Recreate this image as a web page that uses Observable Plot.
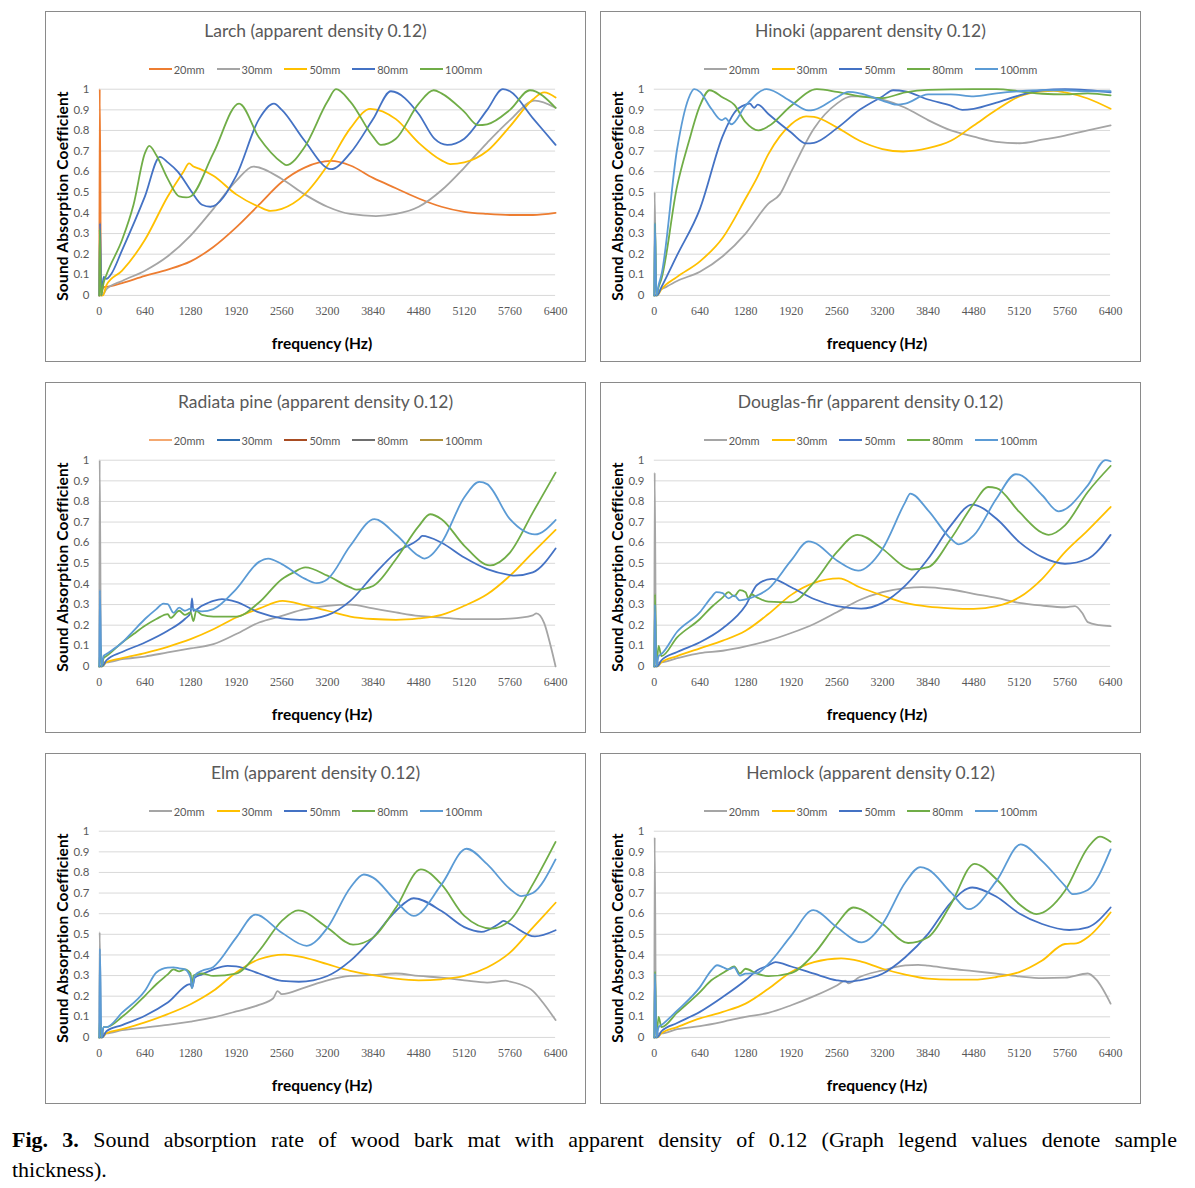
<!DOCTYPE html>
<html><head><meta charset="utf-8">
<script src="https://cdn.jsdelivr.net/npm/d3@7"></script>
<script src="https://cdn.jsdelivr.net/npm/@observablehq/plot@0.6"></script>
<style>
html,body{margin:0;padding:0;background:#fff;}
body{width:1195px;height:1188px;position:relative;overflow:hidden;font-family:Lato,"Open Sans",sans-serif;}
.panel{position:absolute;width:541px;height:351px;box-sizing:border-box;border:1px solid #8a8a8a;background:#fff;}
.panel svg{position:absolute;left:-1px;top:-1px;}
.ov{position:absolute;white-space:nowrap;pointer-events:none;}
.title{left:-1px;width:541px;top:-1px;height:40px;line-height:40px;text-align:center;font-size:17.5px;color:#595959;}
.legend{left:-1px;width:541px;top:49px;height:16px;display:flex;justify-content:center;align-items:center;gap:12px;font-size:11px;color:#595959;}
.legend .it{display:flex;align-items:center;}
.legend .sw{display:inline-block;width:23px;height:2px;margin-right:2px;}
.xlab{left:176px;width:200px;top:320px;height:22px;line-height:22px;text-align:center;font-weight:700;font-size:15.5px;color:#000;}
.ylab{left:-134px;width:300px;top:173px;height:22px;line-height:22px;text-align:center;font-weight:700;font-size:15.5px;color:#000;transform:rotate(-90deg);letter-spacing:0.2px;}
.caption{position:absolute;left:12px;width:1165px;top:1125px;font-family:"Liberation Serif","Times New Roman",serif;font-size:22px;line-height:30px;color:#000;}
.caption .l1{text-align:justify;text-align-last:justify;white-space:nowrap;}
</style>
</head><body>
<script>
// ---- shared axis values ----
const xTicks = [0,640,1280,1920,2560,3200,3840,4480,5120,5760,6400];
const yTicks = [0,0.1,0.2,0.3,0.4,0.5,0.6,0.7,0.8,0.9,1];
const thickness = ["20mm","30mm","50mm","80mm","100mm"];
const titles = ["Larch (apparent density 0.12)","Hinoki (apparent density 0.12)","Radiata pine (apparent density 0.12)","Douglas-fir (apparent density 0.12)","Elm (apparent density 0.12)","Hemlock (apparent density 0.12)"];
const xLabel = "frequency (Hz)";
const yLabel = "Sound Absorption Coefficient";

// ---- Larch: [frequency Hz, coefficient] ----
const larch20 = [[0,0],[6,1.0],[25,0.02],[60,0.04],[160,0.045],[320,0.06],[640,0.095],[960,0.125],[1280,0.165],[1600,0.235],[1920,0.33],[2240,0.44],[2560,0.55],[2880,0.62],[3250,0.652],[3520,0.63],[3840,0.57],[4160,0.52],[4480,0.47],[4800,0.43],[5120,0.405],[5440,0.395],[5760,0.39],[6080,0.39],[6400,0.40]];
const larch30 = [[0,0],[40,0.0],[100,0.03],[320,0.07],[640,0.12],[960,0.19],[1280,0.29],[1600,0.42],[1920,0.555],[2160,0.625],[2560,0.565],[2880,0.49],[3200,0.43],[3520,0.395],[3880,0.385],[4160,0.395],[4480,0.43],[4800,0.51],[5120,0.62],[5440,0.74],[5760,0.85],[6110,0.945],[6400,0.91]];
const larch50 = [[0,0],[50,0.0],[100,0.05],[320,0.12],[640,0.27],[960,0.48],[1180,0.6],[1260,0.64],[1320,0.625],[1400,0.615],[1600,0.58],[1920,0.49],[2240,0.43],[2400,0.41],[2560,0.42],[2880,0.49],[3200,0.63],[3520,0.81],[3800,0.905],[4160,0.855],[4480,0.74],[4800,0.655],[4920,0.637],[5120,0.645],[5440,0.70],[5760,0.82],[6080,0.95],[6240,0.985],[6400,0.96]];
const larch80 = [[0,0],[10,0.35],[30,0.0],[60,0.09],[100,0.08],[160,0.1],[320,0.22],[640,0.48],[850,0.672],[960,0.645],[1100,0.6],[1280,0.51],[1300,0.5],[1440,0.44],[1560,0.43],[1920,0.58],[2240,0.855],[2450,0.93],[2560,0.9],[2880,0.75],[3250,0.612],[3520,0.69],[3840,0.855],[4090,0.99],[4480,0.88],[4700,0.76],[4880,0.73],[5120,0.76],[5440,0.9],[5660,1.0],[5760,0.99],[6080,0.86],[6400,0.73]];
const larch100 = [[0,0],[5,0.32],[25,0.0],[60,0.06],[100,0.1],[320,0.27],[480,0.44],[640,0.69],[700,0.725],[800,0.68],[960,0.565],[1120,0.48],[1220,0.475],[1280,0.48],[1600,0.69],[1960,0.93],[2240,0.766],[2560,0.645],[2620,0.632],[2880,0.72],[3200,0.94],[3320,1.0],[3520,0.94],[3840,0.77],[3950,0.73],[4160,0.76],[4480,0.93],[4690,0.995],[4800,0.98],[5120,0.89],[5310,0.826],[5440,0.83],[5760,0.9],[6040,0.995],[6400,0.91]];

// ---- Hinoki ----
const hinoki20 = [[0,0],[5,0.5],[25,0.0],[60,0.02],[160,0.04],[320,0.07],[640,0.115],[960,0.19],[1280,0.30],[1600,0.445],[1760,0.49],[1920,0.6],[2240,0.81],[2560,0.93],[2760,0.965],[2880,0.965],[3200,0.95],[3520,0.91],[3840,0.85],[4160,0.8],[4480,0.77],[4800,0.745],[5120,0.738],[5440,0.755],[5760,0.775],[6080,0.8],[6400,0.825]];
const hinoki30 = [[0,0],[40,0.0],[100,0.03],[320,0.09],[640,0.165],[960,0.28],[1280,0.47],[1440,0.57],[1600,0.685],[1920,0.83],[2130,0.868],[2240,0.866],[2560,0.815],[2880,0.75],[3200,0.71],[3490,0.698],[3840,0.714],[4160,0.75],[4480,0.824],[4800,0.9],[5120,0.965],[5440,0.99],[5600,0.992],[5760,0.985],[6080,0.955],[6400,0.905]];
const hinoki50 = [[0,0],[40,0.0],[100,0.04],[320,0.195],[640,0.42],[960,0.774],[1120,0.885],[1280,0.925],[1340,0.93],[1400,0.91],[1450,0.925],[1600,0.88],[1920,0.79],[2130,0.737],[2240,0.74],[2560,0.81],[2880,0.9],[3200,0.965],[3350,0.995],[3520,0.99],[3840,0.95],[4160,0.92],[4320,0.9],[4480,0.905],[4800,0.935],[5120,0.97],[5440,0.995],[5760,1.0],[6080,0.995],[6400,0.985]];
const hinoki80 = [[0,0],[10,0.35],[30,0.0],[60,0.04],[100,0.08],[320,0.53],[480,0.74],[640,0.92],[775,0.995],[960,0.96],[1120,0.925],[1280,0.84],[1460,0.8],[1600,0.82],[1920,0.92],[2280,1.0],[2560,0.987],[2880,0.965],[3200,0.957],[3520,0.985],[3840,0.997],[4480,1.0],[4800,1.0],[5120,0.99],[5440,0.978],[5760,0.975],[6080,0.98],[6400,0.97]];
const hinoki100 = [[0,0],[8,0.35],[30,0.0],[60,0.05],[100,0.1],[320,0.71],[480,0.955],[560,1.0],[640,0.987],[800,0.905],[945,0.85],[1000,0.86],[1080,0.83],[1280,0.92],[1575,1.0],[1920,0.94],[2160,0.897],[2240,0.9],[2560,0.96],[2720,0.987],[2880,0.98],[3200,0.945],[3400,0.925],[3520,0.93],[3840,0.975],[4160,0.975],[4480,0.965],[4800,0.98],[5120,0.99],[5440,0.995],[5760,0.995],[6080,0.99],[6400,0.99]];

// ---- Radiata pine ----
const radiata20 = [[0,0],[5,1.0],[25,0.0],[60,0.02],[100,0.02],[320,0.035],[640,0.048],[960,0.068],[1280,0.087],[1600,0.108],[1920,0.157],[2240,0.213],[2560,0.245],[2880,0.278],[3200,0.294],[3520,0.30],[3840,0.281],[4160,0.262],[4480,0.245],[4800,0.237],[5120,0.229],[5440,0.229],[5760,0.232],[6080,0.248],[6130,0.257],[6240,0.21],[6330,0.1],[6400,0.0]];
const radiata30 = [[0,0],[40,0.0],[100,0.02],[320,0.04],[640,0.065],[960,0.095],[1280,0.132],[1600,0.18],[1920,0.237],[2240,0.28],[2570,0.318],[2880,0.297],[3200,0.27],[3520,0.242],[3840,0.23],[4160,0.226],[4480,0.233],[4800,0.25],[5120,0.294],[5440,0.35],[5760,0.44],[6080,0.552],[6400,0.662]];
const radiata50 = [[0,0],[40,0.0],[100,0.03],[320,0.07],[640,0.116],[960,0.173],[1200,0.23],[1280,0.26],[1300,0.33],[1320,0.27],[1440,0.294],[1600,0.318],[1720,0.326],[1920,0.313],[2240,0.262],[2560,0.233],[2810,0.226],[3200,0.249],[3520,0.318],[3840,0.44],[4160,0.552],[4480,0.617],[4530,0.633],[4800,0.6],[5120,0.528],[5440,0.472],[5760,0.443],[5820,0.44],[6080,0.456],[6400,0.572]];
const radiata80 = [[0,0],[20,0.1],[35,0.0],[60,0.04],[100,0.05],[320,0.116],[480,0.157],[640,0.197],[800,0.23],[960,0.254],[1000,0.235],[1120,0.27],[1200,0.25],[1280,0.262],[1320,0.22],[1360,0.27],[1440,0.25],[1600,0.242],[1920,0.242],[2240,0.31],[2560,0.423],[2720,0.455],[2890,0.48],[3200,0.44],[3520,0.383],[3610,0.372],[3840,0.39],[4160,0.52],[4480,0.68],[4640,0.738],[4800,0.714],[5120,0.585],[5480,0.49],[5760,0.552],[6080,0.746],[6400,0.94]];
const radiata100 = [[0,0],[8,0.37],[30,0.0],[60,0.05],[100,0.06],[320,0.116],[480,0.173],[640,0.23],[800,0.278],[900,0.305],[960,0.302],[1040,0.26],[1120,0.285],[1200,0.27],[1280,0.28],[1440,0.267],[1600,0.278],[1920,0.375],[2240,0.507],[2370,0.523],[2560,0.496],[2880,0.426],[3050,0.404],[3200,0.423],[3520,0.585],[3860,0.714],[4160,0.64],[4480,0.536],[4560,0.523],[4800,0.6],[5120,0.82],[5330,0.895],[5440,0.884],[5760,0.714],[6110,0.64],[6400,0.71]];

// ---- Douglas-fir ----
const douglas20 = [[0,0],[5,0.94],[25,0.0],[60,0.02],[100,0.02],[320,0.04],[640,0.065],[960,0.076],[1280,0.097],[1600,0.125],[1920,0.162],[2240,0.206],[2560,0.263],[2880,0.322],[3200,0.36],[3520,0.38],[3760,0.385],[4160,0.373],[4480,0.352],[4800,0.332],[5120,0.308],[5440,0.295],[5760,0.287],[5900,0.292],[6000,0.26],[6080,0.215],[6240,0.2],[6400,0.195]];
const douglas30 = [[0,0],[40,0.0],[100,0.02],[320,0.05],[640,0.088],[960,0.125],[1280,0.173],[1600,0.254],[1920,0.347],[2240,0.405],[2590,0.427],[2880,0.384],[3200,0.344],[3520,0.308],[3840,0.29],[4160,0.282],[4480,0.279],[4800,0.292],[5120,0.335],[5440,0.425],[5760,0.554],[6080,0.66],[6400,0.773]];
const douglas50 = [[0,0],[40,0.0],[100,0.03],[320,0.07],[640,0.117],[960,0.185],[1280,0.295],[1440,0.395],[1650,0.425],[1920,0.384],[2240,0.327],[2560,0.292],[2900,0.28],[3200,0.308],[3520,0.392],[3840,0.522],[4160,0.684],[4460,0.785],[4800,0.716],[5120,0.603],[5440,0.53],[5760,0.498],[6080,0.522],[6400,0.638]];
const douglas80 = [[0,0],[10,0.35],[30,0.0],[60,0.1],[100,0.05],[320,0.141],[640,0.23],[800,0.287],[960,0.335],[1040,0.36],[1120,0.34],[1200,0.37],[1280,0.36],[1320,0.33],[1360,0.35],[1440,0.335],[1600,0.314],[1920,0.311],[2240,0.408],[2560,0.554],[2850,0.638],[3200,0.57],[3520,0.481],[3610,0.47],[3840,0.481],[4160,0.619],[4480,0.789],[4680,0.87],[4800,0.865],[5120,0.749],[5440,0.648],[5530,0.638],[5760,0.684],[6080,0.846],[6400,0.972]];
const douglas100 = [[0,0],[8,0.3],[30,0.0],[60,0.05],[100,0.06],[320,0.168],[640,0.263],[800,0.335],[870,0.36],[960,0.355],[1040,0.33],[1120,0.345],[1200,0.32],[1280,0.325],[1440,0.344],[1600,0.376],[1920,0.514],[2160,0.606],[2240,0.6],[2560,0.514],[2860,0.465],[3200,0.57],[3520,0.797],[3590,0.838],[3840,0.757],[4160,0.619],[4270,0.592],[4480,0.635],[4800,0.814],[5070,0.932],[5120,0.93],[5440,0.83],[5670,0.752],[6080,0.878],[6330,1.0],[6400,0.995]];

// ---- Elm ----
const elm20 = [[0,0],[5,0.51],[25,0.0],[60,0.02],[100,0.02],[320,0.035],[640,0.048],[960,0.061],[1280,0.077],[1600,0.097],[1920,0.126],[2240,0.158],[2440,0.19],[2500,0.225],[2560,0.21],[2880,0.242],[3200,0.277],[3520,0.298],[3840,0.303],[4160,0.31],[4480,0.298],[4800,0.29],[5120,0.277],[5440,0.266],[5700,0.275],[5760,0.271],[5900,0.258],[6080,0.226],[6240,0.161],[6400,0.084]];
const elm30 = [[0,0],[40,0.0],[100,0.02],[320,0.04],[640,0.073],[960,0.113],[1280,0.161],[1600,0.226],[1920,0.315],[2240,0.379],[2600,0.402],[2880,0.387],[3200,0.355],[3520,0.323],[3840,0.302],[4160,0.285],[4480,0.277],[4800,0.282],[5120,0.298],[5440,0.339],[5760,0.411],[6080,0.532],[6400,0.653]];
const elm50 = [[0,0],[40,0.0],[100,0.03],[320,0.06],[640,0.105],[960,0.169],[1280,0.258],[1300,0.24],[1340,0.29],[1440,0.306],[1600,0.33],[1800,0.347],[1920,0.345],[2240,0.31],[2560,0.274],[2800,0.27],[3200,0.298],[3520,0.371],[3840,0.484],[4160,0.613],[4410,0.675],[4800,0.613],[5120,0.535],[5360,0.512],[5600,0.55],[5670,0.565],[5760,0.55],[6110,0.49],[6400,0.52]];
const elm80 = [[0,0],[10,0.1],[30,0.0],[60,0.05],[100,0.05],[320,0.1],[640,0.202],[800,0.258],[960,0.306],[1040,0.33],[1120,0.32],[1200,0.33],[1280,0.31],[1300,0.24],[1320,0.3],[1440,0.31],[1600,0.298],[1920,0.31],[2240,0.419],[2560,0.565],[2790,0.616],[3200,0.532],[3560,0.45],[3840,0.484],[4160,0.629],[4510,0.815],[4800,0.742],[5120,0.589],[5500,0.528],[5760,0.568],[6080,0.742],[6400,0.948]];
const elm100 = [[0,0],[8,0.43],[30,0.0],[60,0.05],[100,0.05],[320,0.12],[640,0.226],[800,0.315],[960,0.339],[1040,0.34],[1120,0.335],[1200,0.33],[1280,0.29],[1300,0.24],[1340,0.3],[1440,0.323],[1600,0.342],[1920,0.484],[2190,0.595],[2560,0.508],[2910,0.444],[3200,0.532],[3520,0.726],[3710,0.79],[3840,0.775],[4160,0.661],[4410,0.589],[4800,0.742],[5150,0.915],[5440,0.84],[5760,0.72],[5920,0.685],[6080,0.70],[6400,0.863]];

// ---- Hemlock ----
const hemlock20 = [[0,0],[5,0.97],[25,0.0],[60,0.02],[100,0.02],[320,0.04],[640,0.055],[960,0.076],[1280,0.1],[1600,0.119],[1920,0.156],[2240,0.2],[2560,0.252],[2680,0.275],[2720,0.262],[2880,0.293],[3200,0.325],[3520,0.349],[3700,0.352],[3840,0.348],[4160,0.333],[4480,0.322],[4800,0.309],[5120,0.296],[5440,0.288],[5760,0.29],[6080,0.31],[6200,0.28],[6400,0.164]];
const hemlock30 = [[0,0],[40,0.0],[100,0.02],[320,0.05],[640,0.092],[960,0.124],[1280,0.164],[1600,0.236],[1920,0.317],[2240,0.365],[2620,0.383],[2880,0.37],[3200,0.333],[3520,0.305],[3840,0.285],[4160,0.28],[4480,0.28],[4800,0.293],[5120,0.317],[5440,0.373],[5760,0.453],[5920,0.456],[6080,0.486],[6400,0.606]];
const hemlock50 = [[0,0],[40,0.0],[100,0.03],[320,0.07],[640,0.124],[960,0.196],[1280,0.277],[1440,0.325],[1600,0.349],[1700,0.365],[1920,0.344],[2240,0.309],[2560,0.277],[2720,0.27],[2880,0.277],[3200,0.309],[3520,0.389],[3840,0.502],[4160,0.654],[4460,0.727],[4800,0.682],[5120,0.601],[5440,0.55],[5820,0.521],[6080,0.534],[6400,0.63]];
const hemlock80 = [[0,0],[10,0.32],[30,0.0],[60,0.1],[100,0.05],[320,0.12],[640,0.22],[800,0.277],[960,0.312],[1040,0.33],[1120,0.345],[1200,0.31],[1280,0.333],[1440,0.309],[1600,0.297],[1920,0.312],[2240,0.405],[2560,0.55],[2790,0.63],[3200,0.55],[3560,0.458],[3840,0.486],[4160,0.646],[4490,0.842],[4800,0.767],[5120,0.646],[5360,0.598],[5760,0.711],[6080,0.92],[6250,0.974],[6400,0.949]];
const hemlock100 = [[0,0],[8,0.31],[30,0.0],[60,0.05],[100,0.06],[320,0.13],[640,0.244],[800,0.325],[880,0.35],[960,0.341],[1040,0.33],[1120,0.34],[1200,0.3],[1280,0.309],[1440,0.312],[1600,0.357],[1920,0.494],[2230,0.617],[2560,0.534],[2910,0.461],[3200,0.55],[3520,0.751],[3730,0.826],[3840,0.815],[4160,0.703],[4410,0.622],[4800,0.759],[5140,0.936],[5440,0.855],[5760,0.735],[5870,0.695],[6080,0.715],[6400,0.912]];

// ---- colours ----
const orange="#ED7D31", gray="#A5A5A5", gold="#FFC000", blue="#4472C4", green="#70AD47", lightBlue="#5B9BD5";
const lineColorsLarch = [orange, gray, gold, blue, green];
const lineColorsOther = [gray, gold, blue, green, lightBlue];
const legendColorsRadiata = ["#F4A870","#2E6DB0","#A84C22","#6E6E6E","#B09038"];

const panels = [
  {left:45, top:11, title:titles[0], series:[larch20,larch30,larch50,larch80,larch100], colors:lineColorsLarch, legend:lineColorsLarch},
  {left:600, top:11, title:titles[1], series:[hinoki20,hinoki30,hinoki50,hinoki80,hinoki100], colors:lineColorsOther, legend:lineColorsOther},
  {left:45, top:382, title:titles[2], series:[radiata20,radiata30,radiata50,radiata80,radiata100], colors:lineColorsOther, legend:legendColorsRadiata},
  {left:600, top:382, title:titles[3], series:[douglas20,douglas30,douglas50,douglas80,douglas100], colors:lineColorsOther, legend:lineColorsOther},
  {left:45, top:753, title:titles[4], series:[elm20,elm30,elm50,elm80,elm100], colors:lineColorsOther, legend:lineColorsOther},
  {left:600, top:753, title:titles[5], series:[hemlock20,hemlock30,hemlock50,hemlock80,hemlock100], colors:lineColorsOther, legend:lineColorsOther}
];

function yFmt(d){ return (d===0||d===1) ? String(d) : d.toFixed(1); }
function xFmt(d){ return String(d); }

for (const p of panels) {
  const div = document.createElement("div");
  div.className = "panel";
  div.style.left = p.left + "px";
  div.style.top = p.top + "px";

  const chart = Plot.plot({
    width: 541, height: 351,
    marginLeft: 54, marginRight: 29, marginTop: 78, marginBottom: 66,
    x: {domain: [0, 6400]},
    y: {domain: [0, 1]},
    style: {background: "transparent", overflow: "visible"},
    marks: [
      Plot.gridY(yTicks, {stroke: "#d9d9d9", strokeOpacity: 1, strokeWidth: 1}),
      Plot.axisY(yTicks, {tickSize: 0, tickPadding: 10, tickFormat: yFmt, fontSize: 11.5, fill: "#595959", fontFamily: "Lato, sans-serif", label: null}),
      Plot.axisX(xTicks, {tickSize: 0, tickPadding: 11, tickFormat: xFmt, fontSize: 12, fill: "#595959", fontFamily: "'Liberation Serif', serif", label: null}),
      ...p.series.map((s, i) => Plot.line(s, {x: d => d[0], y: d => d[1], stroke: p.colors[i], strokeWidth: 1.8, curve: "monotone-x"}))
    ]
  });
  div.appendChild(chart);

  const t = document.createElement("div");
  t.className = "ov title"; t.textContent = p.title; div.appendChild(t);

  const lg = document.createElement("div");
  lg.className = "ov legend";
  thickness.forEach((k, i) => {
    const it = document.createElement("span"); it.className = "it";
    const sw = document.createElement("span"); sw.className = "sw"; sw.style.background = p.legend[i];
    const tx = document.createElement("span"); tx.textContent = k;
    it.appendChild(sw); it.appendChild(tx); lg.appendChild(it);
  });
  div.appendChild(lg);

  const xl = document.createElement("div"); xl.className = "ov xlab"; xl.textContent = xLabel; div.appendChild(xl);
  const yl = document.createElement("div"); yl.className = "ov ylab"; yl.textContent = yLabel; div.appendChild(yl);

  document.body.appendChild(div);
}

const cap = document.createElement("div");
cap.className = "caption";
cap.innerHTML = '<div class="l1"><b>Fig. 3.</b> Sound absorption rate of wood bark mat with apparent density of 0.12 (Graph legend values denote sample</div><div>thickness).</div>';
document.body.appendChild(cap);
</script>
</body></html>
